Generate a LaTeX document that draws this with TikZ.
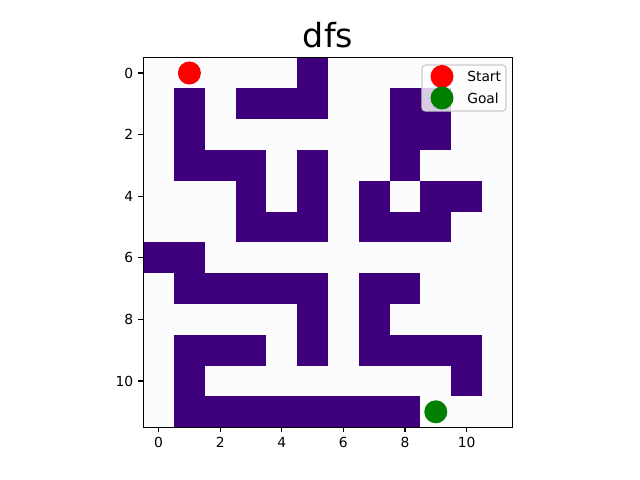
\documentclass[tikz,border=0pt]{standalone}
\usepackage{fontspec}
\setmainfont{DejaVu Sans}
\definecolor{wallc}{HTML}{3F007D}
\definecolor{freec}{HTML}{FCFBFD}
\definecolor{startc}{HTML}{FF0000}
\definecolor{goalc}{HTML}{008000}
\definecolor{legedge}{HTML}{CCCCCC}
\begin{document}
\begin{tikzpicture}[x=0.01in,y=-0.01in,
  wall/.style={fill=wallc},
  ticklab/.style={font=\fontsize{10}{12}\selectfont, inner sep=0pt},
  tickline/.style={line width=0.8pt},
  legtext/.style={font=\fontsize{10}{12}\selectfont, anchor=west, inner sep=0pt}]
\useasboundingbox[fill=white] (0,0) rectangle (640,480);
\def\ox{143.2}\def\oy{57.6}\def\cs{30.8}
% background grid
\fill[freec] (\ox,\oy) rectangle ++(12*\cs,12*\cs);
\foreach \r/\c in {0/5,
  1/1,1/3,1/4,1/5,1/8,1/9,
  2/1,2/8,2/9,
  3/1,3/2,3/3,3/5,3/8,
  4/3,4/5,4/7,4/9,4/10,
  5/3,5/4,5/5,5/7,5/8,5/9,
  6/0,6/1,
  7/1,7/2,7/3,7/4,7/5,7/7,7/8,
  8/5,8/7,
  9/1,9/2,9/3,9/5,9/7,9/8,9/9,9/10,
  10/1,10/10,
  11/1,11/2,11/3,11/4,11/5,11/6,11/7,11/8}
  \fill[wall] ({\ox+\c*\cs},{\oy+\r*\cs}) rectangle ++(\cs,\cs);
% markers
\fill[startc] ({\ox+1.5*\cs},{\oy+0.5*\cs}) circle[radius=11.5];
\fill[goalc] ({\ox+9.5*\cs},{\oy+11.5*\cs}) circle[radius=11.5];
% frame
\draw[line width=0.8pt] (\ox,\oy) rectangle ++(12*\cs,12*\cs);
% ticks
\foreach \k in {0,2,4,6,8,10} {
  \draw[tickline] ({\ox+(\k+0.5)*\cs},{\oy+12*\cs}) -- ++(0,4.9);
  \node[ticklab, anchor=north] (xl\k) at ({\ox+(\k+0.5)*\cs},{\oy+12*\cs+9.8}) {\k};
  \draw[tickline] (\ox,{\oy+(\k+0.5)*\cs}) -- ++(-4.9,0);
  \node[ticklab, anchor=east] (yl\k) at ({\ox-9.8},{\oy+(\k+0.5)*\cs}) {\k};
}
% title
\node[font=\fontsize{24}{28}\selectfont, anchor=base, inner sep=0pt] (title) at ({\ox+6*\cs},48) {dfs};
% legend
\draw[legedge, fill=white, fill opacity=0.8, rounded corners=2.5, line width=0.8pt] (422,65) rectangle (506,111);
\fill[startc] (442,76.5) circle[radius=11.5];
\fill[goalc] (442,98) circle[radius=11.5];
\node[legtext] (lstart) at (467,76.5) {Start};
\node[legtext] (lgoal) at (467,98) {Goal};
\end{tikzpicture}
\end{document}
